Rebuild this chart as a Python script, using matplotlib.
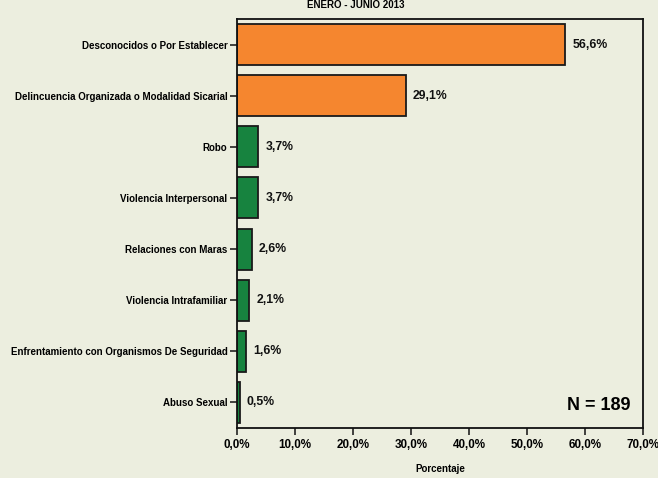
import matplotlib
matplotlib.use("Agg")
import matplotlib.pyplot as plt
from matplotlib.ticker import FuncFormatter

categories = [
    "Desconocidos o Por Establecer",
    "Delincuencia Organizada o Modalidad Sicarial",
    "Robo",
    "Violencia Interpersonal",
    "Relaciones con Maras",
    "Violencia Intrafamiliar",
    "Enfrentamiento con Organismos De Seguridad",
    "Abuso Sexual",
]
values = [56.6, 29.1, 3.7, 3.7, 2.6, 2.1, 1.6, 0.5]
groups = ["alto", "alto", "bajo", "bajo", "bajo", "bajo", "bajo", "bajo"]
xticks = [0, 10, 20, 30, 40, 50, 60, 70]
total_n = 189

bg = "#ECEEDF"
palette = {"alto": "#F5862F", "bajo": "#17833F"}

plt.rcParams["font.family"] = ["Liberation Sans", "DejaVu Sans"]
plt.rcParams["font.weight"] = "bold"

fig = plt.figure(figsize=(6.58, 4.78), dpi=100, facecolor=bg)
ax = fig.add_axes([0.3602, 0.1046, 0.6170, 0.8557], facecolor=bg)

ypos = list(range(len(categories)))
ax.barh(ypos, values, height=0.8,
        color=[palette[g] for g in groups],
        edgecolor="#1a1a1a", linewidth=1.3)

for y, v in zip(ypos, values):
    ax.text(v + 1.2, y, f"{v:.1f}%".replace(".", ","), va="center", ha="left",
            fontsize=8.8, fontweight="bold", color="#111111")

ax.set_ylim(len(categories) - 0.5, -0.5)
ax.set_xlim(0, 70)
ax.set_yticks(ypos)
ax.set_yticklabels(categories, fontsize=7.0, fontweight="bold")
ax.set_xticks(xticks)
ax.xaxis.set_major_formatter(FuncFormatter(lambda x, p: f"{x:.1f}%".replace(".", ",")))
for lab in ax.get_xticklabels():
    lab.set_fontsize(8.4)
    lab.set_fontweight("bold")
ax.tick_params(axis="both", direction="out", length=5, width=1.1, color="#111111", pad=2)
ax.tick_params(axis="x", pad=3)
for s in ax.spines.values():
    s.set_linewidth(1.3)
    s.set_color("#111111")

ax.set_xlabel("Porcentaje", fontsize=7, fontweight="bold", labelpad=9)
ax.text(0.97, 0.055, f"N = {total_n}", transform=ax.transAxes, ha="right", va="center",
        fontsize=13, fontweight="bold")

fig.text(0.541, 0.999, "ENERO - JUNIO 2013", ha="center", va="top",
         fontsize=7, fontweight="bold")

fig.savefig("out.png", dpi=100, facecolor=bg)
